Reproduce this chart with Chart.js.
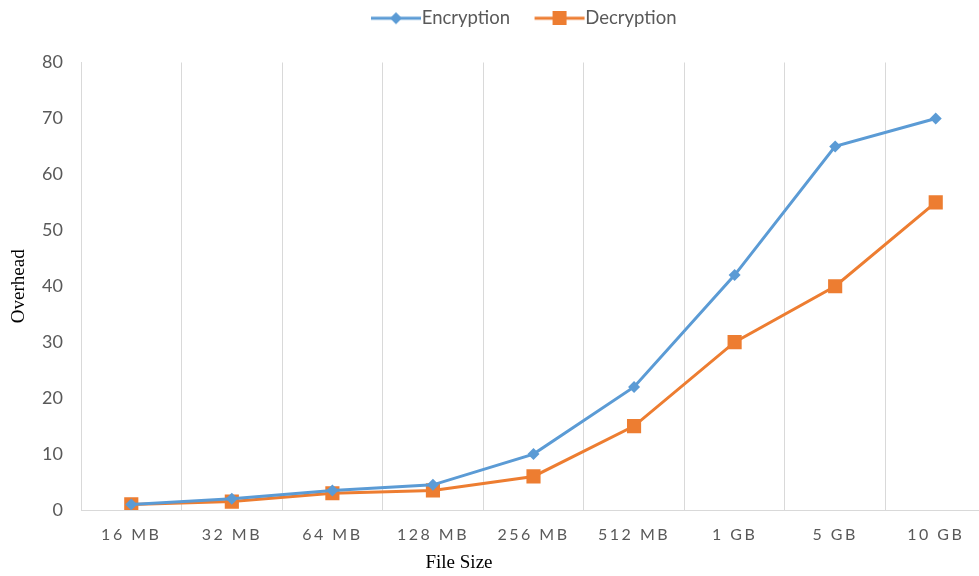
<!DOCTYPE html>
<html>
<head>
<meta charset="utf-8">
<script src="https://cdn.jsdelivr.net/npm/chart.js@4"></script>
<style>
  html, body { margin: 0; padding: 0; background: #fff; overflow: hidden; }
  #wrap { width: 996px; height: 576px; }
</style>
</head>
<body>
<div id="wrap"><canvas id="myChart"></canvas></div>
<script>
const categories = ['16 MB', '32 MB', '64 MB', '128 MB', '256 MB', '512 MB', '1 GB', '5 GB', '10 GB'];
const encryption = [1, 2, 3.5, 4.5, 10, 22, 42, 65, 70];
const decryption = [1, 1.5, 3, 3.5, 6, 15, 30, 40, 55];
const yTicks = [0, 10, 20, 30, 40, 50, 60, 70, 80];

const blue = '#5B9BD5';
const orange = '#ED7D31';
const gray = '#595959';

// legend icons: short line with the marker on it, like Excel.
// canvas is wider than the line so the line sits right next to the text
function legendIcon(color, shape) {
  const c = document.createElement('canvas');
  c.width = 76; c.height = 14;
  const g = c.getContext('2d');
  g.strokeStyle = color; g.lineWidth = 3;
  g.beginPath(); g.moveTo(25, 7); g.lineTo(75, 7); g.stroke();
  g.fillStyle = color;
  g.beginPath();
  if (shape === 'diamond') {
    g.moveTo(50, 1); g.lineTo(56, 7); g.lineTo(50, 13); g.lineTo(44, 7);
  } else {
    g.rect(43, 0, 14, 14);
  }
  g.closePath(); g.fill();
  return c;
}
const icons = [legendIcon(blue, 'diamond'), legendIcon(orange, 'square')];

// x tick labels are letter-spaced in the original
const spacedTicks = {
  id: 'spacedTicks',
  afterLayout(chart) {
    const s = chart.scales.x;
    if (s._spaced) return;
    const orig = s.drawLabels.bind(s);
    s.drawLabels = function (area) {
      this.ctx.save();
      this.ctx.letterSpacing = '2.5px';
      orig(area);
      this.ctx.restore();
    };
    s._spaced = true;
  }
};

// more room between legend and plot, legend a bit right of centre
const legendGap = {
  id: 'legendGap',
  beforeLayout(chart) {
    const lg = chart.legend;
    if (!lg || lg._gap) return;
    const fit = lg.fit.bind(lg);
    lg.fit = function () { fit(); this.height += 25; };
    lg._gap = true;
  },
  afterLayout(chart) {
    chart.legend.left += 36;
  }
};

// x axis title sits left of centre in the original
const xTitle = {
  id: 'xTitle',
  afterDraw(chart) {
    const ctx = chart.ctx;
    ctx.save();
    ctx.font = '19px "Liberation Serif", "Times New Roman", serif';
    ctx.fillStyle = '#000';
    ctx.textAlign = 'center';
    ctx.textBaseline = 'middle';
    ctx.fillText('File Size', 459, 563);
    ctx.restore();
  }
};

const ctx = document.getElementById('myChart').getContext('2d');
new Chart(ctx, {
  type: 'line',
  data: {
    labels: categories,
    datasets: [
      {
        label: 'Encryption',
        data: encryption,
        borderColor: blue,
        backgroundColor: blue,
        borderWidth: 3,
        pointStyle: 'rectRot',
        pointRadius: 6,
        pointBorderWidth: 0,
        tension: 0
      },
      {
        label: 'Decryption',
        data: decryption,
        borderColor: orange,
        backgroundColor: orange,
        borderWidth: 3,
        pointStyle: 'rect',
        pointRadius: 10,
        pointBorderWidth: 0,
        tension: 0
      }
    ]
  },
  options: {
    responsive: true,
    maintainAspectRatio: false,
    animation: false,
    layout: { padding: 0 },
    plugins: {
      tooltip: { enabled: false },
      legend: {
        position: 'top',
        labels: {
          usePointStyle: true,
          pointStyleWidth: 57,
          boxHeight: 14,
          padding: 9,
          color: gray,
          font: { family: 'Lato, "Open Sans", sans-serif', size: 18.5 },
          generateLabels(chart) {
            const items = Chart.defaults.plugins.legend.labels.generateLabels(chart);
            items.forEach((it, i) => { it.pointStyle = icons[i]; });
            return items;
          }
        }
      }
    },
    scales: {
      x: {
        offset: true,
        grid: { display: true, offset: true, color: '#D9D9D9', lineWidth: 1, drawTicks: false },
        border: { display: true, color: '#D9D9D9' },
        ticks: {
          color: gray,
          padding: 15,
          maxRotation: 0,
          autoSkip: false,
          font: { family: 'Lato, "Open Sans", sans-serif', size: 16 }
        },
        afterFit(scale) { scale.height = 66; }
      },
      y: {
        min: 0,
        max: 80,
        afterBuildTicks(scale) { scale.ticks = yTicks.map(v => ({ value: v })); },
        grid: { display: false, drawTicks: false },
        border: { display: true, color: '#D9D9D9' },
        ticks: {
          color: gray,
          padding: 18,
          font: { family: 'Lato, "Open Sans", sans-serif', size: 18 }
        },
        title: {
          display: true,
          text: 'Overhead',
          color: '#000',
          padding: { top: 8, bottom: 0 },
          font: { family: '"Liberation Serif", "Times New Roman", serif', size: 19 }
        },
        afterFit(scale) { scale.width = 81; }
      }
    }
  },
  plugins: [spacedTicks, legendGap, xTitle]
});
</script>
</body>
</html>
